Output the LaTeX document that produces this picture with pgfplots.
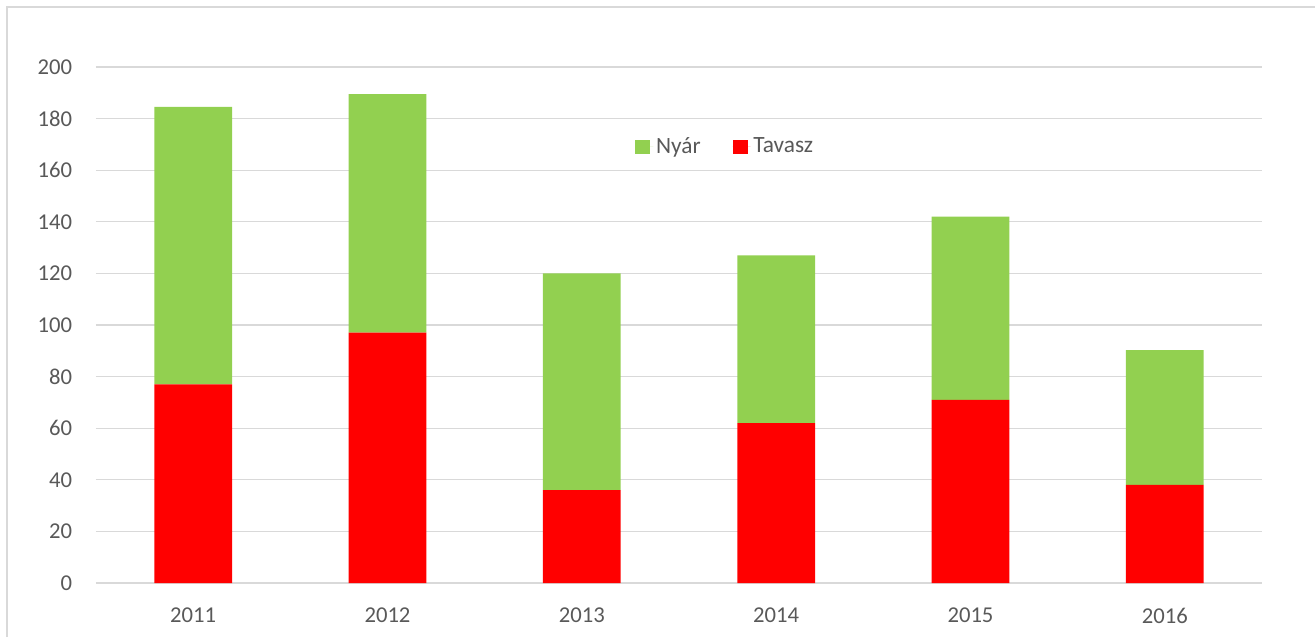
\documentclass[border=0pt]{standalone}
\usepackage{pgfplots}
\pgfplotsset{compat=1.18}
\usepackage{fontspec}
\setmainfont{Carlito}
\definecolor{txt}{HTML}{595959}
\definecolor{gridc}{HTML}{D9D9D9}
\definecolor{nyar}{HTML}{92D050}
\definecolor{tavasz}{HTML}{FF0000}
\begin{document}
\fontsize{17}{20}\selectfont
\begin{tikzpicture}[x=0.75pt,y=0.75pt]
\useasboundingbox (0,0) rectangle (1315,637);
\draw[gridc,line width=1.5pt] (7,0) -- (7,630) -- (1315,630);
\begin{axis}[
  at={(96*0.75pt,54*0.75pt)}, anchor=south west,
  scale only axis, width=874.5pt, height=387pt,
  xmin=-0.5, xmax=5.5, ymin=0, ymax=200,
  axis line style={draw=none},
  ybar stacked, bar width=0.4,
  xtick={0,1,2,3,4,5},
  xticklabels={2011,2012,2013,2014,2015,2016},
  ytick={0,20,...,200},
  ymajorgrids, grid style={gridc,line width=1pt},
  major tick length=0pt,
  tick label style={font=\fontsize{17}{20}\selectfont, text=txt},
  /pgf/number format/assume math mode=true,
  yticklabel style={xshift=-12pt},
  xticklabel style={yshift=-13pt},
  legend columns=2,
  legend style={draw=none, fill=none, at={(axis cs:2.74,169)}, anchor=center,
    font=\fontsize{17.5}{20}\selectfont, text=txt,
    /tikz/every even column/.append style={column sep=22pt}},
  legend image code/.code={\fill[#1] (0pt,-5.6pt) rectangle (11.2pt,5.6pt); \path (0pt,0pt) -- (13.5pt,0pt);},
]
\addlegendimage{fill=nyar,draw=none}
\addlegendentry{Nyár}
\addlegendimage{fill=tavasz,draw=none}
\addlegendentry{Tavasz}
\addplot[fill=tavasz,draw=none,forget plot] coordinates {(0,77) (1,97) (2,36) (3,62) (4,71) (5,38)};
\addplot[fill=nyar,draw=none,forget plot] coordinates {(0,107.5) (1,92.5) (2,84) (3,65) (4,71) (5,52.3)};
\end{axis}
\end{tikzpicture}
\end{document}
